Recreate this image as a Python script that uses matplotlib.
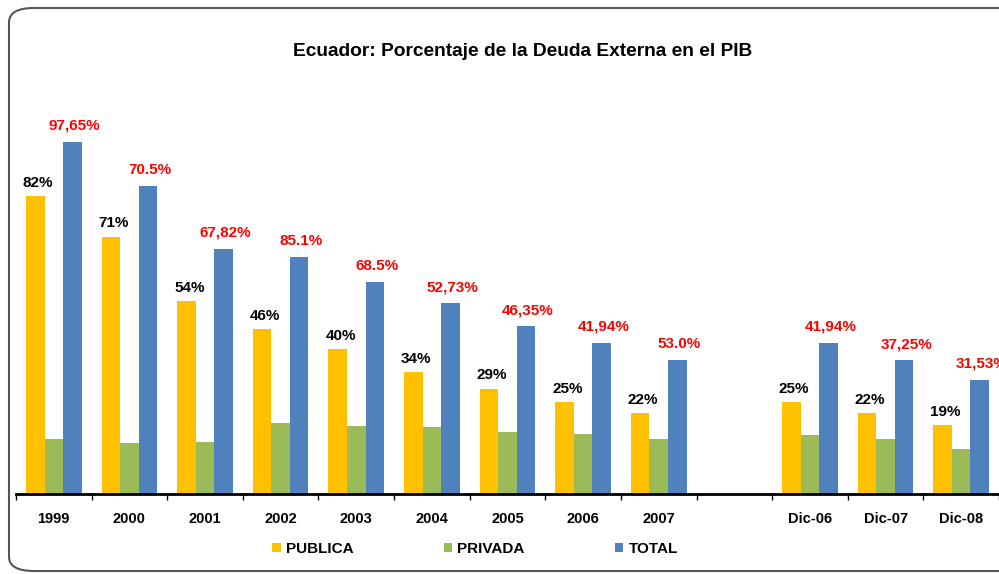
import numpy as np
import matplotlib
matplotlib.use("Agg")
import matplotlib.pyplot as plt
from matplotlib.patches import FancyBboxPatch

plt.rcParams['font.family'] = ['Liberation Sans', 'DejaVu Sans']

categories = ['1999', '2000', '2001', '2002', '2003', '2004', '2005', '2006', '2007',
              '', 'Dic-06', 'Dic-07', 'Dic-08']
publica = [82.0, 70.9, 53.2, 45.5, 40.0, 33.6, 29.0, 25.3, 22.3, np.nan, 25.3, 22.3, 19.0]
privada = [15.1, 14.1, 14.4, 19.6, 18.7, 18.5, 17.1, 16.4, 15.1, np.nan, 16.3, 15.1, 12.4]
total = [97.0, 84.8, 67.5, 65.2, 58.5, 52.6, 46.2, 41.6, 37.0, np.nan, 41.6, 36.9, 31.4]
publica_labels = ['82%', '71%', '54%', '46%', '40%', '34%', '29%', '25%', '22%', '',
                  '25%', '22%', '19%']
total_labels = ['97,65%', '70.5%', '67,82%', '85.1%', '68.5%', '52,73%', '46,35%', '41,94%',
                '53.0%', '', '41,94%', '37,25%', '31,53%']
series_names = ['PUBLICA', 'PRIVADA', 'TOTAL']
colors = ['#FFC000', '#9BBB59', '#4F81BD']

fig = plt.figure(figsize=(9.99, 5.74), dpi=100)
ax = fig.add_axes([16/999, 80/574, 983/999, 363/574])

x = np.arange(len(categories))
w = 0.245
bars = []
for i, (vals, c, name) in enumerate(zip([publica, privada, total], colors, series_names)):
    b = ax.bar(x + (i - 1) * w, vals, w, color=c, label=name, edgecolor='none')
    bars.append(b)

for xi, v, lab in zip(x, publica, publica_labels):
    if lab and not np.isnan(v):
        ax.annotate(lab, (xi - w, v), xytext=(2, 4.5), textcoords='offset points',
                    ha='center', va='bottom', fontsize=11, fontweight='bold', color='black')
for xi, v, lab in zip(x, total, total_labels):
    if lab and not np.isnan(v):
        ax.annotate(lab, (xi + w, v), xytext=(1.5, 6.5), textcoords='offset points',
                    ha='center', va='bottom', fontsize=11, fontweight='bold', color='#FF0000')

ax.set_xlim(-0.5, len(categories) - 0.5)
ax.set_ylim(0, 100)
ax.set_yticks([])
for s in ['top', 'right', 'left']:
    ax.spines[s].set_visible(False)
ax.spines['bottom'].set_linewidth(2)
ax.set_xticks(x)
ax.set_xticklabels(categories, fontsize=10.5, fontweight='bold')
ax.tick_params(axis='x', which='major', length=0, pad=13)
ax.set_xticks(np.arange(-0.5, len(categories), 1), minor=True)
ax.tick_params(axis='x', which='minor', length=4, width=1, direction='out')

fig.text(523/999, 1 - 52/574, 'Ecuador: Porcentaje de la Deuda Externa en el PIB',
         ha='center', va='center', fontsize=13.8, fontweight='bold')

leg = fig.legend(handles=bars, labels=series_names, loc='center',
                 bbox_to_anchor=(475/999, 1 - 549/574), ncol=3, frameon=False,
                 handlelength=0.55, handleheight=0.55, handletextpad=0.35,
                 columnspacing=5.9, prop={'weight': 'bold', 'size': 11})

frame = FancyBboxPatch((9/999, 3/574), 1.2, 1 - 11/574, boxstyle='round,pad=0,rounding_size=0.025',
                       transform=fig.transFigure, facecolor='none', edgecolor='#555555',
                       linewidth=1.5, clip_on=False)
fig.patches.append(frame)

fig.savefig('out.png', dpi=100)
